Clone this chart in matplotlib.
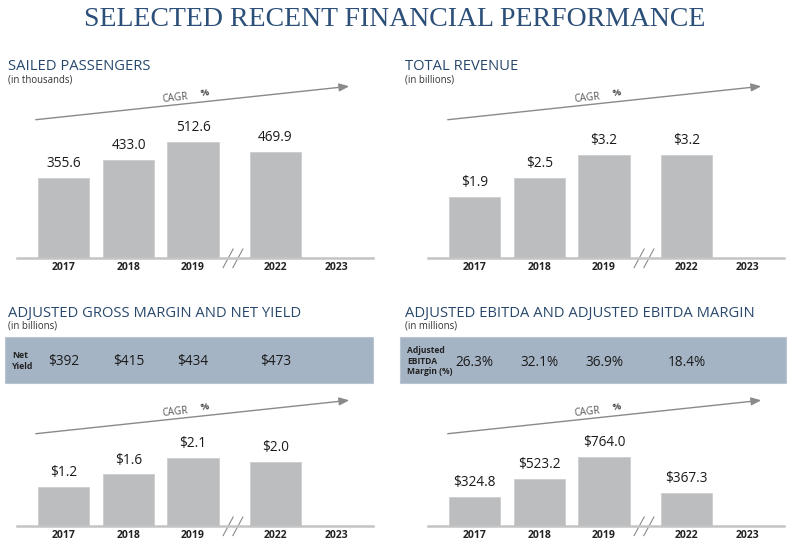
import matplotlib
matplotlib.use("Agg")
import matplotlib.pyplot as plt
from matplotlib.patches import Rectangle, FancyArrowPatch
from matplotlib.transforms import blended_transform_factory
import numpy as np

W, H = 790, 551

YEARS = ["2017", "2018", "2019", "2022", "2023"]
PASSENGERS = [355.6, 433.0, 512.6, 469.9]
REVENUE = [1.9, 2.5, 3.2, 3.2]
GROSS_MARGIN = [1.2, 1.6, 2.1, 2.0]
EBITDA = [324.8, 523.2, 764.0, 367.3]
NET_YIELD = ["$392", "$415", "$434", "$473"]
EBITDA_MARGIN = ["26.3%", "32.1%", "36.9%", "18.4%"]

XPOS = np.array([0, 1, 1.99, 3.26, 4.2])
NAVY = "#27486c"
BAR = "#bcbdbf"
BAND = "#a5b4c4"
FONT = "Open Sans"

plt.rcParams["font.family"] = [FONT, "DejaVu Sans"]


def fx(px):
    return px / W


def fy(py):
    return 1 - py / H


def heading(fig, x, y, title, sub):
    fig.text(fx(x), fy(y), title, fontsize=10.6, color=NAVY, va="center", ha="left")
    fig.text(fx(x), fy(y + 13), sub, fontsize=6.9, color="#333333", va="center", ha="left")


def cagr_arrow(fig, x0, y0):
    fig.add_artist(FancyArrowPatch(
        (fx(x0), fy(y0)), (fx(x0 + 319), fy(y0 - 34)), transform=fig.transFigure,
        arrowstyle="-|>,head_length=4,head_width=1.6", color="#8a8a8a", lw=1.0,
        mutation_scale=1.5))
    fig.text(fx(x0 + 142), fy(y0 - 22), "CAGR", fontsize=7.2, color="#555555",
             rotation=6, ha="center", va="center")
    fig.text(fx(x0 + 172), fy(y0 - 27), "%", fontsize=6.8, color="#444444",
             fontweight="bold", rotation=6, ha="center", va="center")


def bar_chart(fig, left, base, values, ytop, fmt):
    ax = fig.add_axes([fx(left), fy(base), fx(356), 120 / H])
    ax.bar(XPOS[:len(values)], values, width=0.79, color=BAR, edgecolor="#c8c9cb", lw=0.5)
    for x, v in zip(XPOS, values):
        ax.annotate(fmt.format(v), (x, v), xytext=(0, 5), textcoords="offset points",
                    ha="center", va="bottom", fontsize=9.8, color="#1a1a1a")
    ax.set_xlim(-0.72, 4.76)
    ax.set_ylim(0, ytop)
    ax.set_xticks(XPOS, YEARS, fontsize=7.5, fontweight="bold", color="#222222")
    ax.tick_params(axis="x", length=0, pad=3)
    ax.set_yticks([])
    for s in ["top", "right", "left"]:
        ax.spines[s].set_visible(False)
    ax.spines["bottom"].set_color("#c4c4c4")
    ax.spines["bottom"].set_linewidth(1.8)
    ax.patch.set_alpha(0)
    # axis break marks between 2019 and 2022
    tr = blended_transform_factory(ax.transData, ax.transAxes)
    for xm in (2.53, 2.68):
        ax.plot([xm - 0.077, xm + 0.077], [-0.08, 0.075], color="#8a8a8a", lw=0.8,
                transform=tr, clip_on=False)
    return ax


def band(fig, ax, x0, x1, label, values, label_size):
    fig.add_artist(Rectangle((fx(x0), fy(383)), fx(x1 - x0), 46 / H,
                             transform=fig.transFigure, facecolor=BAND,
                             edgecolor="#b9c5d1", lw=0.8, zorder=-1))
    fig.text(fx(x0 + 7), fy(361), label, fontsize=label_size, fontweight="bold",
             color="#222222", ha="left", va="center", linespacing=1.25)
    tr = blended_transform_factory(ax.transData, fig.transFigure)
    for x, v in zip(XPOS, values):
        fig.text(x, fy(362), v, transform=tr, ha="center", va="center",
                 fontsize=9.8, color="#1a1a1a", zorder=5)


fig = plt.figure(figsize=(W / 100, H / 100), dpi=100, facecolor="white")

fig.text(0.5, fy(19), "SELECTED RECENT FINANCIAL PERFORMANCE",
         family=["Liberation Serif", "DejaVu Serif"], fontsize=20, color="#2b4f78",
         ha="center", va="center")

heading(fig, 8, 67, "SAILED PASSENGERS", "(in thousands)")
heading(fig, 405, 67, "TOTAL REVENUE", "(in billions)")
heading(fig, 8, 313, "ADJUSTED GROSS MARGIN AND NET YIELD", "(in billions)")
heading(fig, 405, 313, "ADJUSTED EBITDA AND ADJUSTED EBITDA MARGIN", "(in millions)")

cagr_arrow(fig, 33, 120)
cagr_arrow(fig, 445, 120)
cagr_arrow(fig, 33, 434)
cagr_arrow(fig, 445, 434)

bar_chart(fig, 17, 258, PASSENGERS, 120 / 0.2263, "{:.1f}")
bar_chart(fig, 428, 258, REVENUE, 120 / 32.2, "${:.1f}")
ax_gm = bar_chart(fig, 17, 526, GROSS_MARGIN, 120 / 32.2, "${:.1f}")
ax_eb = bar_chart(fig, 428, 526, EBITDA, 120 / 0.0903, "${:.1f}")

band(fig, ax_gm, 5, 373, "Net\nYield", NET_YIELD, 6.3)
band(fig, ax_eb, 400, 786, "Adjusted\nEBITDA\nMargin (%)", EBITDA_MARGIN, 6.1)

fig.savefig("out.png", dpi=100, facecolor="white")
